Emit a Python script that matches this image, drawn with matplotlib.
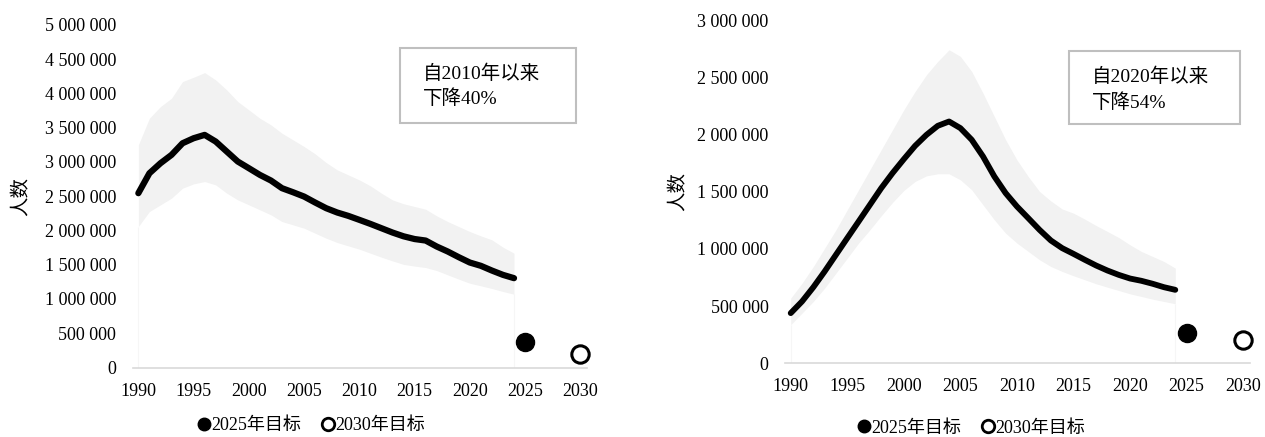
import numpy as np
import matplotlib.pyplot as plt
from matplotlib.lines import Line2D
from matplotlib.patches import Rectangle

plt.rcParams['font.family'] = ['Liberation Serif', 'Noto Sans CJK SC']

years = list(range(1990, 2025))

# 左图：人数及不确定性区间（千人）
left_mid = [2544, 2835, 2981, 3103, 3273, 3346, 3395, 3298, 3152, 3006,
            2909, 2811, 2729, 2617, 2558, 2495, 2408, 2325, 2262, 2213,
            2155, 2096, 2033, 1970, 1915, 1875, 1853, 1766, 1693, 1610,
            1532, 1484, 1415, 1352, 1304]
left_hi = [3249, 3638, 3808, 3930, 4173, 4236, 4304, 4197, 4051, 3881,
           3760, 3638, 3541, 3419, 3322, 3225, 3118, 2991, 2884, 2811,
           2738, 2651, 2544, 2446, 2390, 2350, 2310, 2213, 2130, 2057,
           1984, 1921, 1863, 1756, 1668]
left_lo = [2057, 2276, 2374, 2471, 2617, 2680, 2714, 2665, 2544, 2446,
           2374, 2301, 2228, 2130, 2082, 2033, 1960, 1887, 1824, 1775,
           1727, 1668, 1610, 1556, 1505, 1480, 1459, 1415, 1352, 1289,
           1230, 1192, 1153, 1109, 1070]
left_targets = [379, 199]

# 右图
right_mid = [438, 540, 665, 803, 949, 1095, 1240, 1386, 1532, 1664,
             1786, 1903, 1999, 2078, 2116, 2058, 1956, 1810, 1635, 1489,
             1372, 1270, 1167, 1074, 1007, 957, 905, 855, 811, 773,
             741, 721, 695, 665, 642]
right_hi = [569, 700, 846, 1007, 1167, 1343, 1518, 1693, 1868, 2043,
            2218, 2379, 2525, 2642, 2744, 2686, 2554, 2364, 2160, 1956,
            1780, 1634, 1503, 1420, 1350, 1313, 1261, 1205, 1153, 1100,
            1036, 978, 934, 890, 832]
right_lo = [336, 438, 540, 657, 788, 919, 1051, 1167, 1290, 1407,
            1512, 1591, 1640, 1658, 1658, 1605, 1518, 1386, 1255, 1138,
            1051, 978, 905, 846, 803, 765, 730, 695, 665, 636,
            607, 584, 560, 540, 520]
right_targets = [263, 204]

target_years = [2025, 2030]
xticks = [1990, 1995, 2000, 2005, 2010, 2015, 2020, 2025, 2030]
legend_labels = ['2025年目标', '2030年目标']


def fmt_num(v):
    return f'{int(v):,}'.replace(',', ' ')


def draw_panel(ax, mid, hi, lo, targets, ymax, note, lw, box, text_xy, leg_xy, ylpad):
    k = 1000
    mid = np.array(mid) * k
    hi = np.array(hi) * k
    lo = np.array(lo) * k
    ax.fill_between(years, lo, hi, color='#f2f2f2', lw=0)
    ax.vlines([years[0], years[-1]], 0, [lo[0], lo[-1]], color='#f6f6f6', lw=0.8)
    ax.plot(years, mid, color='black', lw=lw, solid_capstyle='round',
            solid_joinstyle='round')
    ax.plot(target_years[0], targets[0] * k, 'o', color='black', ms=13,
            clip_on=False)
    ax.plot(target_years[1], targets[1] * k, 'o', mfc='white', mec='black',
            mew=2.2, ms=12.5, clip_on=False)

    ax.set_xlim(1989.5, 2030.6)
    ax.set_ylim(0, ymax)
    yt = np.arange(0, ymax + 1, 500000)
    ax.set_yticks(yt)
    ax.set_yticklabels([fmt_num(v) for v in yt])
    ax.set_xticks(xticks)
    ax.tick_params(length=0, labelsize=13)
    ax.tick_params(axis='y', pad=12)
    ax.tick_params(axis='x', pad=11)
    for s in ['top', 'right', 'left']:
        ax.spines[s].set_visible(False)
    ax.spines['bottom'].set_color('#d9d9d9')
    ax.spines['bottom'].set_linewidth(1.2)
    ax.set_ylabel('人数', fontsize=14, labelpad=ylpad)

    # 注释框
    ax.add_patch(Rectangle((box[0], box[1]), box[2], box[3], transform=ax.transAxes,
                           fc='white', ec='#bfbfbf', lw=1.5, clip_on=False, zorder=5))
    ax.text(text_xy[0], text_xy[1], note, transform=ax.transAxes, fontsize=14,
            va='top', ha='left', linespacing=1.45, zorder=6)

    handles = [Line2D([], [], ls='', marker='o', color='black', ms=9),
               Line2D([], [], ls='', marker='o', mfc='white', mec='black', mew=2, ms=9)]
    ax.legend(handles, legend_labels, loc='center',
              bbox_to_anchor=leg_xy, ncol=2, frameon=False,
              fontsize=13, handlelength=0.6, handletextpad=0.1,
              columnspacing=1.2)


fig = plt.figure(figsize=(12.65, 4.37), dpi=100)
ax1 = fig.add_axes([0.105, 0.159, 0.359, 0.784])
ax2 = fig.add_axes([0.6206, 0.169, 0.3675, 0.784])

draw_panel(ax1, left_mid, left_hi, left_lo, left_targets, 5000000,
           '自2010年以来\n下降40%', 4.5,
           (0.588, 0.714, 0.388, 0.219), (0.639, 0.885), (0.394, -0.17), 10)
draw_panel(ax2, right_mid, right_hi, right_lo, right_targets, 3000000,
           '自2020年以来\n下降54%', 4.2,
           (0.611, 0.698, 0.368, 0.212), (0.66, 0.862), (0.402, -0.19), 7)

fig.savefig('out.png', dpi=100)
